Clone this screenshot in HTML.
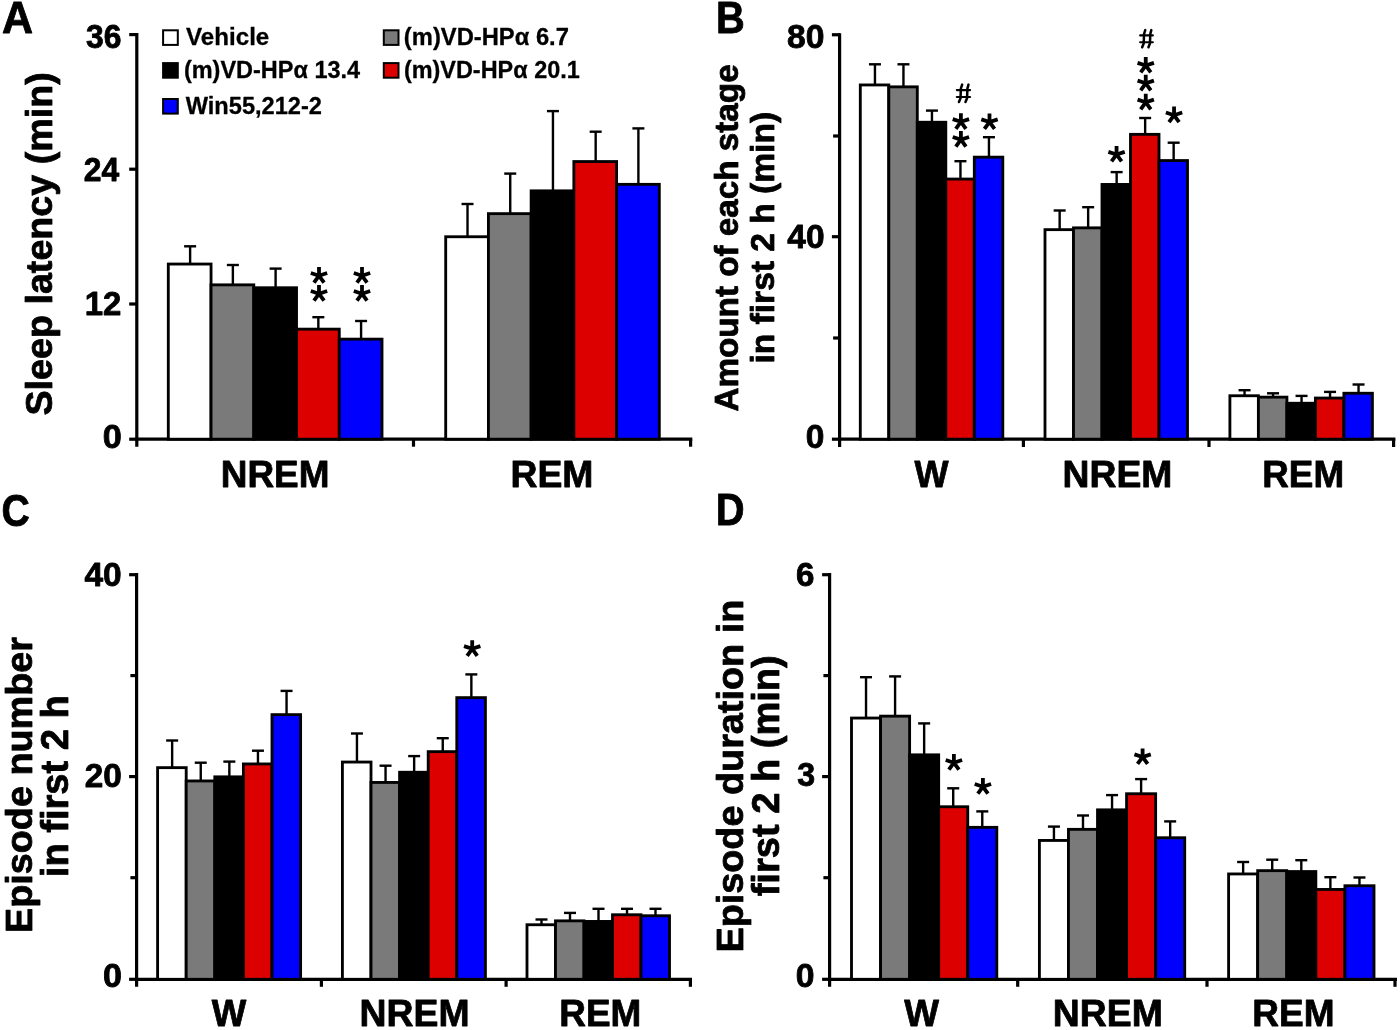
<!DOCTYPE html>
<html><head><meta charset="utf-8"><title>Figure</title>
<style>
html,body{margin:0;padding:0;background:#fff;}
body{width:1400px;height:1030px;overflow:hidden;}
svg{display:block;will-change:transform;}
text{font-family:"Liberation Sans", sans-serif;font-weight:bold;fill:#000;stroke:#000;stroke-width:0.8px;stroke-linejoin:round;}
text.lg{stroke-width:0.3px;}
</style></head><body>
<svg width="1400" height="1030" viewBox="0 0 1400 1030">
<rect x="0" y="0" width="1400" height="1030" fill="#fff"/>
<text transform="translate(2.02,33.05) scale(0.9791,1)" font-size="43.93">A</text>
<text transform="translate(715.88,33.05) scale(0.9059,1)" font-size="43.93">B</text>
<text transform="translate(1.49,525.85) scale(0.8927,1)" font-size="43.93">C</text>
<text transform="translate(715.67,525.45) scale(0.9096,1)" font-size="43.93">D</text>
<line x1="136.80" y1="33.00" x2="136.80" y2="446.70" stroke="#000" stroke-width="3.2"/>
<line x1="135.20" y1="439.20" x2="692.30" y2="439.20" stroke="#000" stroke-width="3.2"/>
<line x1="129.20" y1="34.60" x2="136.80" y2="34.60" stroke="#000" stroke-width="3.2"/>
<line x1="129.20" y1="169.20" x2="136.80" y2="169.20" stroke="#000" stroke-width="3.2"/>
<line x1="129.20" y1="304.00" x2="136.80" y2="304.00" stroke="#000" stroke-width="3.2"/>
<line x1="129.20" y1="439.20" x2="136.80" y2="439.20" stroke="#000" stroke-width="3.2"/>
<line x1="413.50" y1="439.20" x2="413.50" y2="446.70" stroke="#000" stroke-width="3.2"/>
<line x1="690.60" y1="439.20" x2="690.60" y2="446.70" stroke="#000" stroke-width="3.2"/>
<text transform="translate(85.97,47.79) scale(0.9747,1)" font-size="32.68">36</text>
<text transform="translate(83.77,181.45) scale(0.9759,1)" font-size="32.68">24</text>
<text transform="translate(84.74,315.45) scale(1.0083,1)" font-size="32.68">12</text>
<text transform="translate(102.65,448.03) scale(1.0477,1)" font-size="32.68">0</text>
<text transform="translate(51.90,415.53) rotate(-90)" font-size="37.69">Sleep latency (min)</text>
<line x1="190.12" y1="246.30" x2="190.12" y2="264.05" stroke="#000" stroke-width="2.4"/>
<line x1="184.12" y1="246.30" x2="196.12" y2="246.30" stroke="#000" stroke-width="2.4"/>
<line x1="232.86" y1="265.00" x2="232.86" y2="284.85" stroke="#000" stroke-width="2.4"/>
<line x1="226.86" y1="265.00" x2="238.86" y2="265.00" stroke="#000" stroke-width="2.4"/>
<line x1="275.60" y1="268.60" x2="275.60" y2="287.75" stroke="#000" stroke-width="2.4"/>
<line x1="269.60" y1="268.60" x2="281.60" y2="268.60" stroke="#000" stroke-width="2.4"/>
<line x1="318.34" y1="317.20" x2="318.34" y2="329.15" stroke="#000" stroke-width="2.4"/>
<line x1="312.34" y1="317.20" x2="324.34" y2="317.20" stroke="#000" stroke-width="2.4"/>
<line x1="361.08" y1="321.00" x2="361.08" y2="339.15" stroke="#000" stroke-width="2.4"/>
<line x1="355.08" y1="321.00" x2="367.08" y2="321.00" stroke="#000" stroke-width="2.4"/>
<rect x="168.30" y="264.05" width="42.74" height="175.15" fill="#ffffff" stroke="#000" stroke-width="2.85"/>
<rect x="211.04" y="284.85" width="42.74" height="154.35" fill="#7a7a7a" stroke="#000" stroke-width="2.85"/>
<rect x="253.78" y="287.75" width="42.74" height="151.45" fill="#000000" stroke="#000" stroke-width="2.85"/>
<rect x="296.52" y="329.15" width="42.74" height="110.05" fill="#dc0000" stroke="#000" stroke-width="2.85"/>
<rect x="339.26" y="339.15" width="42.74" height="100.05" fill="#0000ff" stroke="#000" stroke-width="2.85"/>
<line x1="467.51" y1="204.00" x2="467.51" y2="236.75" stroke="#000" stroke-width="2.4"/>
<line x1="461.51" y1="204.00" x2="473.51" y2="204.00" stroke="#000" stroke-width="2.4"/>
<line x1="510.23" y1="173.60" x2="510.23" y2="213.65" stroke="#000" stroke-width="2.4"/>
<line x1="504.23" y1="173.60" x2="516.23" y2="173.60" stroke="#000" stroke-width="2.4"/>
<line x1="552.95" y1="111.10" x2="552.95" y2="190.85" stroke="#000" stroke-width="2.4"/>
<line x1="546.95" y1="111.10" x2="558.95" y2="111.10" stroke="#000" stroke-width="2.4"/>
<line x1="595.67" y1="131.70" x2="595.67" y2="161.55" stroke="#000" stroke-width="2.4"/>
<line x1="589.67" y1="131.70" x2="601.67" y2="131.70" stroke="#000" stroke-width="2.4"/>
<line x1="638.39" y1="128.40" x2="638.39" y2="184.35" stroke="#000" stroke-width="2.4"/>
<line x1="632.39" y1="128.40" x2="644.39" y2="128.40" stroke="#000" stroke-width="2.4"/>
<rect x="445.70" y="236.75" width="42.72" height="202.45" fill="#ffffff" stroke="#000" stroke-width="2.85"/>
<rect x="488.42" y="213.65" width="42.72" height="225.55" fill="#7a7a7a" stroke="#000" stroke-width="2.85"/>
<rect x="531.14" y="190.85" width="42.72" height="248.35" fill="#000000" stroke="#000" stroke-width="2.85"/>
<rect x="573.86" y="161.55" width="42.72" height="277.65" fill="#dc0000" stroke="#000" stroke-width="2.85"/>
<rect x="616.58" y="184.35" width="42.72" height="254.85" fill="#0000ff" stroke="#000" stroke-width="2.85"/>
<text transform="translate(220.81,486.65) scale(0.9915,1)" font-size="37.22">NREM</text>
<text transform="translate(510.48,486.65) scale(1.0038,1)" font-size="37.22">REM</text>
<path d="M319.00 276.50L319.00 267.10M319.76 275.95L310.82 273.04M318.24 275.95L327.18 273.04M319.47 275.05L313.95 282.66M318.53 275.05L324.05 282.66" stroke="#000" stroke-width="3.8" fill="none"/>
<path d="M319.00 294.50L319.00 285.10M319.76 293.95L310.82 291.04M318.24 293.95L327.18 291.04M319.47 293.05L313.95 300.66M318.53 293.05L324.05 300.66" stroke="#000" stroke-width="3.8" fill="none"/>
<path d="M362.00 276.50L362.00 267.10M362.76 275.95L353.82 273.04M361.24 275.95L370.18 273.04M362.47 275.05L356.95 282.66M361.53 275.05L367.05 282.66" stroke="#000" stroke-width="3.8" fill="none"/>
<path d="M362.00 294.50L362.00 285.10M362.76 293.95L353.82 291.04M361.24 293.95L370.18 291.04M362.47 293.05L356.95 300.66M361.53 293.05L367.05 300.66" stroke="#000" stroke-width="3.8" fill="none"/>
<rect x="163.10" y="30.30" width="14.7" height="14.6" fill="#fff" stroke="#000" stroke-width="2"/>
<text transform="translate(186.07,44.75) scale(1.0264,1)" font-size="23.52" class="lg">Vehicle</text>
<rect x="163.10" y="63.10" width="14.7" height="14.6" fill="#000" stroke="#000" stroke-width="2"/>
<text transform="translate(183.88,77.85) scale(0.9989,1)" font-size="23.52" class="lg">(m)VD-HPα 13.4</text>
<rect x="163.10" y="99.00" width="14.7" height="14.6" fill="#0000ff" stroke="#000" stroke-width="2"/>
<text transform="translate(185.69,113.85) scale(1.0045,1)" font-size="23.52" class="lg">Win55,212-2</text>
<rect x="383.80" y="30.30" width="14.7" height="14.6" fill="#7a7a7a" stroke="#000" stroke-width="2"/>
<text transform="translate(403.86,44.75) scale(1.0105,1)" font-size="23.52" class="lg">(m)VD-HPα 6.7</text>
<rect x="383.80" y="63.10" width="14.7" height="14.6" fill="#dc0000" stroke="#000" stroke-width="2"/>
<text transform="translate(403.88,77.85) scale(0.9967,1)" font-size="23.52" class="lg">(m)VD-HPα 20.1</text>
<line x1="839.60" y1="33.15" x2="839.60" y2="447.00" stroke="#000" stroke-width="3.2"/>
<line x1="838.00" y1="439.20" x2="1395.40" y2="439.20" stroke="#000" stroke-width="3.2"/>
<line x1="831.90" y1="34.75" x2="839.60" y2="34.75" stroke="#000" stroke-width="3.2"/>
<line x1="831.90" y1="236.70" x2="839.60" y2="236.70" stroke="#000" stroke-width="3.2"/>
<line x1="831.90" y1="439.20" x2="839.60" y2="439.20" stroke="#000" stroke-width="3.2"/>
<line x1="833.10" y1="136.00" x2="839.60" y2="136.00" stroke="#000" stroke-width="3.2"/>
<line x1="833.10" y1="338.00" x2="839.60" y2="338.00" stroke="#000" stroke-width="3.2"/>
<line x1="1023.40" y1="439.20" x2="1023.40" y2="447.00" stroke="#000" stroke-width="3.2"/>
<line x1="1209.00" y1="439.20" x2="1209.00" y2="447.00" stroke="#000" stroke-width="3.2"/>
<line x1="1393.60" y1="439.20" x2="1393.60" y2="447.00" stroke="#000" stroke-width="3.2"/>
<text transform="translate(787.12,47.53) scale(1.0288,1)" font-size="32.68">80</text>
<text transform="translate(787.31,247.53) scale(1.0234,1)" font-size="32.68">40</text>
<text transform="translate(805.87,448.03) scale(1.0232,1)" font-size="32.68">0</text>
<text transform="translate(737.60,411.53) rotate(-90)" font-size="33.24">Amount of each stage</text>
<text transform="translate(773.90,363.55) rotate(-90)" font-size="33.56">in first 2 h (min)</text>
<line x1="874.95" y1="64.30" x2="874.95" y2="84.95" stroke="#000" stroke-width="2.4"/>
<line x1="868.95" y1="64.30" x2="880.95" y2="64.30" stroke="#000" stroke-width="2.4"/>
<line x1="903.45" y1="64.30" x2="903.45" y2="86.85" stroke="#000" stroke-width="2.4"/>
<line x1="897.45" y1="64.30" x2="909.45" y2="64.30" stroke="#000" stroke-width="2.4"/>
<line x1="931.95" y1="110.60" x2="931.95" y2="122.25" stroke="#000" stroke-width="2.4"/>
<line x1="925.95" y1="110.60" x2="937.95" y2="110.60" stroke="#000" stroke-width="2.4"/>
<line x1="960.45" y1="161.20" x2="960.45" y2="179.05" stroke="#000" stroke-width="2.4"/>
<line x1="954.45" y1="161.20" x2="966.45" y2="161.20" stroke="#000" stroke-width="2.4"/>
<line x1="988.95" y1="137.20" x2="988.95" y2="157.15" stroke="#000" stroke-width="2.4"/>
<line x1="982.95" y1="137.20" x2="994.95" y2="137.20" stroke="#000" stroke-width="2.4"/>
<rect x="860.30" y="84.95" width="28.50" height="354.25" fill="#ffffff" stroke="#000" stroke-width="2.85"/>
<rect x="888.80" y="86.85" width="28.50" height="352.35" fill="#7a7a7a" stroke="#000" stroke-width="2.85"/>
<rect x="917.30" y="122.25" width="28.50" height="316.95" fill="#000000" stroke="#000" stroke-width="2.85"/>
<rect x="945.80" y="179.05" width="28.50" height="260.15" fill="#dc0000" stroke="#000" stroke-width="2.85"/>
<rect x="974.30" y="157.15" width="28.50" height="282.05" fill="#0000ff" stroke="#000" stroke-width="2.85"/>
<line x1="1059.65" y1="210.50" x2="1059.65" y2="229.65" stroke="#000" stroke-width="2.4"/>
<line x1="1053.65" y1="210.50" x2="1065.65" y2="210.50" stroke="#000" stroke-width="2.4"/>
<line x1="1088.15" y1="207.20" x2="1088.15" y2="227.85" stroke="#000" stroke-width="2.4"/>
<line x1="1082.15" y1="207.20" x2="1094.15" y2="207.20" stroke="#000" stroke-width="2.4"/>
<line x1="1116.65" y1="172.10" x2="1116.65" y2="184.45" stroke="#000" stroke-width="2.4"/>
<line x1="1110.65" y1="172.10" x2="1122.65" y2="172.10" stroke="#000" stroke-width="2.4"/>
<line x1="1145.15" y1="118.00" x2="1145.15" y2="134.35" stroke="#000" stroke-width="2.4"/>
<line x1="1139.15" y1="118.00" x2="1151.15" y2="118.00" stroke="#000" stroke-width="2.4"/>
<line x1="1173.65" y1="142.70" x2="1173.65" y2="160.55" stroke="#000" stroke-width="2.4"/>
<line x1="1167.65" y1="142.70" x2="1179.65" y2="142.70" stroke="#000" stroke-width="2.4"/>
<rect x="1045.00" y="229.65" width="28.50" height="209.55" fill="#ffffff" stroke="#000" stroke-width="2.85"/>
<rect x="1073.50" y="227.85" width="28.50" height="211.35" fill="#7a7a7a" stroke="#000" stroke-width="2.85"/>
<rect x="1102.00" y="184.45" width="28.50" height="254.75" fill="#000000" stroke="#000" stroke-width="2.85"/>
<rect x="1130.50" y="134.35" width="28.50" height="304.85" fill="#dc0000" stroke="#000" stroke-width="2.85"/>
<rect x="1159.00" y="160.55" width="28.50" height="278.65" fill="#0000ff" stroke="#000" stroke-width="2.85"/>
<line x1="1244.55" y1="390.20" x2="1244.55" y2="395.75" stroke="#000" stroke-width="2.4"/>
<line x1="1238.55" y1="390.20" x2="1250.55" y2="390.20" stroke="#000" stroke-width="2.4"/>
<line x1="1273.05" y1="393.30" x2="1273.05" y2="397.15" stroke="#000" stroke-width="2.4"/>
<line x1="1267.05" y1="393.30" x2="1279.05" y2="393.30" stroke="#000" stroke-width="2.4"/>
<line x1="1301.55" y1="395.90" x2="1301.55" y2="403.25" stroke="#000" stroke-width="2.4"/>
<line x1="1295.55" y1="395.90" x2="1307.55" y2="395.90" stroke="#000" stroke-width="2.4"/>
<line x1="1330.05" y1="391.90" x2="1330.05" y2="398.05" stroke="#000" stroke-width="2.4"/>
<line x1="1324.05" y1="391.90" x2="1336.05" y2="391.90" stroke="#000" stroke-width="2.4"/>
<line x1="1358.55" y1="384.50" x2="1358.55" y2="393.25" stroke="#000" stroke-width="2.4"/>
<line x1="1352.55" y1="384.50" x2="1364.55" y2="384.50" stroke="#000" stroke-width="2.4"/>
<rect x="1229.90" y="395.75" width="28.50" height="43.45" fill="#ffffff" stroke="#000" stroke-width="2.85"/>
<rect x="1258.40" y="397.15" width="28.50" height="42.05" fill="#7a7a7a" stroke="#000" stroke-width="2.85"/>
<rect x="1286.90" y="403.25" width="28.50" height="35.95" fill="#000000" stroke="#000" stroke-width="2.85"/>
<rect x="1315.40" y="398.05" width="28.50" height="41.15" fill="#dc0000" stroke="#000" stroke-width="2.85"/>
<rect x="1343.90" y="393.25" width="28.50" height="45.95" fill="#0000ff" stroke="#000" stroke-width="2.85"/>
<text transform="translate(914.60,486.85) scale(0.9695,1)" font-size="37.22">W</text>
<text transform="translate(1062.58,486.85) scale(1.0019,1)" font-size="37.22">NREM</text>
<text transform="translate(1262.21,486.70) scale(0.9910,1)" font-size="37.22">REM</text>
<path d="M962.15 84.64L960.90 88.37L960.49 98.22L958.93 102.05M968.49 84.64L967.45 88.37L967.04 98.22L965.48 102.05" stroke="#000" stroke-width="2.5" stroke-linecap="round" stroke-linejoin="round" fill="none"/>
<path d="M956.85 90.03L970.05 90.03M956.85 96.98L970.05 96.98" stroke="#000" stroke-width="2.2" stroke-linecap="round" fill="none"/>
<path d="M960.90 122.60L960.90 113.20M961.66 122.05L952.72 119.14M960.14 122.05L969.08 119.14M961.37 121.15L955.85 128.76M960.43 121.15L965.95 128.76" stroke="#000" stroke-width="3.8" fill="none"/>
<path d="M960.90 140.40L960.90 131.00M961.66 139.85L952.72 136.94M960.14 139.85L969.08 136.94M961.37 138.95L955.85 146.56M960.43 138.95L965.95 146.56" stroke="#000" stroke-width="3.8" fill="none"/>
<path d="M989.50 122.80L989.50 113.40M990.26 122.25L981.32 119.34M988.74 122.25L997.68 119.34M989.97 121.35L984.45 128.96M989.03 121.35L994.55 128.96" stroke="#000" stroke-width="3.8" fill="none"/>
<path d="M1116.55 155.30L1116.55 145.90M1117.31 154.75L1108.37 151.84M1115.79 154.75L1124.73 151.84M1117.02 153.85L1111.50 161.46M1116.08 153.85L1121.60 161.46" stroke="#000" stroke-width="3.8" fill="none"/>
<path d="M1145.26 30.12L1144.07 33.80L1143.67 43.50L1142.18 47.27M1151.32 30.12L1150.32 33.80L1149.93 43.50L1148.44 47.27" stroke="#000" stroke-width="2.5" stroke-linecap="round" stroke-linejoin="round" fill="none"/>
<path d="M1140.19 35.43L1152.81 35.43M1140.19 42.27L1152.81 42.27" stroke="#000" stroke-width="2.2" stroke-linecap="round" fill="none"/>
<path d="M1145.75 66.30L1145.75 56.90M1146.51 65.75L1137.57 62.84M1144.99 65.75L1153.93 62.84M1146.22 64.85L1140.70 72.46M1145.28 64.85L1150.80 72.46" stroke="#000" stroke-width="3.8" fill="none"/>
<path d="M1145.75 84.10L1145.75 74.70M1146.51 83.55L1137.57 80.64M1144.99 83.55L1153.93 80.64M1146.22 82.65L1140.70 90.26M1145.28 82.65L1150.80 90.26" stroke="#000" stroke-width="3.8" fill="none"/>
<path d="M1145.75 103.10L1145.75 93.70M1146.51 102.55L1137.57 99.64M1144.99 102.55L1153.93 99.64M1146.22 101.65L1140.70 109.26M1145.28 101.65L1150.80 109.26" stroke="#000" stroke-width="3.8" fill="none"/>
<path d="M1174.05 116.00L1174.05 106.60M1174.81 115.45L1165.87 112.54M1173.29 115.45L1182.23 112.54M1174.52 114.55L1169.00 122.16M1173.58 114.55L1179.10 122.16" stroke="#000" stroke-width="3.8" fill="none"/>
<line x1="136.60" y1="573.10" x2="136.60" y2="986.80" stroke="#000" stroke-width="3.2"/>
<line x1="135.00" y1="979.30" x2="692.00" y2="979.30" stroke="#000" stroke-width="3.2"/>
<line x1="129.10" y1="574.70" x2="136.60" y2="574.70" stroke="#000" stroke-width="3.2"/>
<line x1="129.10" y1="776.60" x2="136.60" y2="776.60" stroke="#000" stroke-width="3.2"/>
<line x1="129.10" y1="979.30" x2="136.60" y2="979.30" stroke="#000" stroke-width="3.2"/>
<line x1="130.40" y1="675.60" x2="136.60" y2="675.60" stroke="#000" stroke-width="3.2"/>
<line x1="130.40" y1="877.70" x2="136.60" y2="877.70" stroke="#000" stroke-width="3.2"/>
<line x1="321.40" y1="979.30" x2="321.40" y2="986.80" stroke="#000" stroke-width="3.2"/>
<line x1="506.10" y1="979.30" x2="506.10" y2="986.80" stroke="#000" stroke-width="3.2"/>
<line x1="690.40" y1="979.30" x2="690.40" y2="986.80" stroke="#000" stroke-width="3.2"/>
<text transform="translate(84.51,586.38) scale(1.0234,1)" font-size="32.68">40</text>
<text transform="translate(84.64,786.78) scale(1.0197,1)" font-size="32.68">20</text>
<text transform="translate(102.96,986.78) scale(1.0416,1)" font-size="32.68">0</text>
<text transform="translate(32.20,933.05) rotate(-90)" font-size="37.79">Episode number</text>
<text transform="translate(67.90,877.17) rotate(-90)" font-size="38.08">in first 2 h</text>
<line x1="172.15" y1="740.50" x2="172.15" y2="767.65" stroke="#000" stroke-width="2.4"/>
<line x1="166.15" y1="740.50" x2="178.15" y2="740.50" stroke="#000" stroke-width="2.4"/>
<line x1="200.75" y1="762.70" x2="200.75" y2="780.95" stroke="#000" stroke-width="2.4"/>
<line x1="194.75" y1="762.70" x2="206.75" y2="762.70" stroke="#000" stroke-width="2.4"/>
<line x1="229.35" y1="761.60" x2="229.35" y2="776.85" stroke="#000" stroke-width="2.4"/>
<line x1="223.35" y1="761.60" x2="235.35" y2="761.60" stroke="#000" stroke-width="2.4"/>
<line x1="257.95" y1="750.70" x2="257.95" y2="763.95" stroke="#000" stroke-width="2.4"/>
<line x1="251.95" y1="750.70" x2="263.95" y2="750.70" stroke="#000" stroke-width="2.4"/>
<line x1="286.55" y1="690.90" x2="286.55" y2="714.65" stroke="#000" stroke-width="2.4"/>
<line x1="280.55" y1="690.90" x2="292.55" y2="690.90" stroke="#000" stroke-width="2.4"/>
<rect x="157.60" y="767.65" width="28.60" height="211.65" fill="#ffffff" stroke="#000" stroke-width="2.85"/>
<rect x="186.20" y="780.95" width="28.60" height="198.35" fill="#7a7a7a" stroke="#000" stroke-width="2.85"/>
<rect x="214.80" y="776.85" width="28.60" height="202.45" fill="#000000" stroke="#000" stroke-width="2.85"/>
<rect x="243.40" y="763.95" width="28.60" height="215.35" fill="#dc0000" stroke="#000" stroke-width="2.85"/>
<rect x="272.00" y="714.65" width="28.60" height="264.65" fill="#0000ff" stroke="#000" stroke-width="2.85"/>
<line x1="356.95" y1="733.50" x2="356.95" y2="762.05" stroke="#000" stroke-width="2.4"/>
<line x1="350.95" y1="733.50" x2="362.95" y2="733.50" stroke="#000" stroke-width="2.4"/>
<line x1="385.55" y1="765.70" x2="385.55" y2="782.45" stroke="#000" stroke-width="2.4"/>
<line x1="379.55" y1="765.70" x2="391.55" y2="765.70" stroke="#000" stroke-width="2.4"/>
<line x1="414.15" y1="756.10" x2="414.15" y2="772.25" stroke="#000" stroke-width="2.4"/>
<line x1="408.15" y1="756.10" x2="420.15" y2="756.10" stroke="#000" stroke-width="2.4"/>
<line x1="442.75" y1="738.20" x2="442.75" y2="751.65" stroke="#000" stroke-width="2.4"/>
<line x1="436.75" y1="738.20" x2="448.75" y2="738.20" stroke="#000" stroke-width="2.4"/>
<line x1="471.35" y1="674.40" x2="471.35" y2="697.65" stroke="#000" stroke-width="2.4"/>
<line x1="465.35" y1="674.40" x2="477.35" y2="674.40" stroke="#000" stroke-width="2.4"/>
<rect x="342.40" y="762.05" width="28.60" height="217.25" fill="#ffffff" stroke="#000" stroke-width="2.85"/>
<rect x="371.00" y="782.45" width="28.60" height="196.85" fill="#7a7a7a" stroke="#000" stroke-width="2.85"/>
<rect x="399.60" y="772.25" width="28.60" height="207.05" fill="#000000" stroke="#000" stroke-width="2.85"/>
<rect x="428.20" y="751.65" width="28.60" height="227.65" fill="#dc0000" stroke="#000" stroke-width="2.85"/>
<rect x="456.80" y="697.65" width="28.60" height="281.65" fill="#0000ff" stroke="#000" stroke-width="2.85"/>
<line x1="541.50" y1="919.50" x2="541.50" y2="924.75" stroke="#000" stroke-width="2.4"/>
<line x1="535.50" y1="919.50" x2="547.50" y2="919.50" stroke="#000" stroke-width="2.4"/>
<line x1="570.00" y1="912.90" x2="570.00" y2="920.85" stroke="#000" stroke-width="2.4"/>
<line x1="564.00" y1="912.90" x2="576.00" y2="912.90" stroke="#000" stroke-width="2.4"/>
<line x1="598.50" y1="908.80" x2="598.50" y2="921.45" stroke="#000" stroke-width="2.4"/>
<line x1="592.50" y1="908.80" x2="604.50" y2="908.80" stroke="#000" stroke-width="2.4"/>
<line x1="627.00" y1="908.80" x2="627.00" y2="914.75" stroke="#000" stroke-width="2.4"/>
<line x1="621.00" y1="908.80" x2="633.00" y2="908.80" stroke="#000" stroke-width="2.4"/>
<line x1="655.50" y1="908.80" x2="655.50" y2="915.75" stroke="#000" stroke-width="2.4"/>
<line x1="649.50" y1="908.80" x2="661.50" y2="908.80" stroke="#000" stroke-width="2.4"/>
<rect x="527.00" y="924.75" width="28.50" height="54.55" fill="#ffffff" stroke="#000" stroke-width="2.85"/>
<rect x="555.50" y="920.85" width="28.50" height="58.45" fill="#7a7a7a" stroke="#000" stroke-width="2.85"/>
<rect x="584.00" y="921.45" width="28.50" height="57.85" fill="#000000" stroke="#000" stroke-width="2.85"/>
<rect x="612.50" y="914.75" width="28.50" height="64.55" fill="#dc0000" stroke="#000" stroke-width="2.85"/>
<rect x="641.00" y="915.75" width="28.50" height="63.55" fill="#0000ff" stroke="#000" stroke-width="2.85"/>
<text transform="translate(211.80,1025.95) scale(0.9835,1)" font-size="37.22">W</text>
<text transform="translate(359.58,1025.95) scale(1.0038,1)" font-size="37.22">NREM</text>
<text transform="translate(559.30,1026.00) scale(0.9923,1)" font-size="37.22">REM</text>
<path d="M472.20 649.60L472.20 640.20M472.96 649.05L464.02 646.14M471.44 649.05L480.38 646.14M472.67 648.15L467.15 655.76M471.73 648.15L477.25 655.76" stroke="#000" stroke-width="3.8" fill="none"/>
<line x1="829.60" y1="573.10" x2="829.60" y2="986.80" stroke="#000" stroke-width="3.2"/>
<line x1="828.00" y1="979.30" x2="1397.00" y2="979.30" stroke="#000" stroke-width="3.2"/>
<line x1="822.10" y1="574.70" x2="829.60" y2="574.70" stroke="#000" stroke-width="3.2"/>
<line x1="822.10" y1="776.60" x2="829.60" y2="776.60" stroke="#000" stroke-width="3.2"/>
<line x1="822.10" y1="979.30" x2="829.60" y2="979.30" stroke="#000" stroke-width="3.2"/>
<line x1="823.40" y1="675.60" x2="829.60" y2="675.60" stroke="#000" stroke-width="3.2"/>
<line x1="823.40" y1="877.70" x2="829.60" y2="877.70" stroke="#000" stroke-width="3.2"/>
<line x1="1017.70" y1="979.30" x2="1017.70" y2="986.80" stroke="#000" stroke-width="3.2"/>
<line x1="1207.00" y1="979.30" x2="1207.00" y2="986.80" stroke="#000" stroke-width="3.2"/>
<line x1="1395.00" y1="979.30" x2="1395.00" y2="986.80" stroke="#000" stroke-width="3.2"/>
<text transform="translate(795.96,586.38) scale(1.0141,1)" font-size="32.68">6</text>
<text transform="translate(797.17,786.34) scale(0.9850,1)" font-size="32.68">3</text>
<text transform="translate(795.87,986.78) scale(1.0293,1)" font-size="32.68">0</text>
<text transform="translate(743.10,952.55) rotate(-90)" font-size="37.81">Episode duration in</text>
<text transform="translate(778.60,896.37) rotate(-90)" font-size="38.08">first 2 h (min)</text>
<line x1="866.03" y1="677.20" x2="866.03" y2="718.05" stroke="#000" stroke-width="2.4"/>
<line x1="860.03" y1="677.20" x2="872.03" y2="677.20" stroke="#000" stroke-width="2.4"/>
<line x1="895.09" y1="676.40" x2="895.09" y2="716.15" stroke="#000" stroke-width="2.4"/>
<line x1="889.09" y1="676.40" x2="901.09" y2="676.40" stroke="#000" stroke-width="2.4"/>
<line x1="924.15" y1="723.40" x2="924.15" y2="754.85" stroke="#000" stroke-width="2.4"/>
<line x1="918.15" y1="723.40" x2="930.15" y2="723.40" stroke="#000" stroke-width="2.4"/>
<line x1="953.21" y1="788.30" x2="953.21" y2="806.75" stroke="#000" stroke-width="2.4"/>
<line x1="947.21" y1="788.30" x2="959.21" y2="788.30" stroke="#000" stroke-width="2.4"/>
<line x1="982.27" y1="811.40" x2="982.27" y2="827.35" stroke="#000" stroke-width="2.4"/>
<line x1="976.27" y1="811.40" x2="988.27" y2="811.40" stroke="#000" stroke-width="2.4"/>
<rect x="851.50" y="718.05" width="29.06" height="261.25" fill="#ffffff" stroke="#000" stroke-width="2.85"/>
<rect x="880.56" y="716.15" width="29.06" height="263.15" fill="#7a7a7a" stroke="#000" stroke-width="2.85"/>
<rect x="909.62" y="754.85" width="29.06" height="224.45" fill="#000000" stroke="#000" stroke-width="2.85"/>
<rect x="938.68" y="806.75" width="29.06" height="172.55" fill="#dc0000" stroke="#000" stroke-width="2.85"/>
<rect x="967.74" y="827.35" width="29.06" height="151.95" fill="#0000ff" stroke="#000" stroke-width="2.85"/>
<line x1="1053.93" y1="826.60" x2="1053.93" y2="840.45" stroke="#000" stroke-width="2.4"/>
<line x1="1047.93" y1="826.60" x2="1059.93" y2="826.60" stroke="#000" stroke-width="2.4"/>
<line x1="1082.99" y1="815.50" x2="1082.99" y2="829.35" stroke="#000" stroke-width="2.4"/>
<line x1="1076.99" y1="815.50" x2="1088.99" y2="815.50" stroke="#000" stroke-width="2.4"/>
<line x1="1112.05" y1="795.10" x2="1112.05" y2="809.85" stroke="#000" stroke-width="2.4"/>
<line x1="1106.05" y1="795.10" x2="1118.05" y2="795.10" stroke="#000" stroke-width="2.4"/>
<line x1="1141.11" y1="779.10" x2="1141.11" y2="793.75" stroke="#000" stroke-width="2.4"/>
<line x1="1135.11" y1="779.10" x2="1147.11" y2="779.10" stroke="#000" stroke-width="2.4"/>
<line x1="1170.17" y1="821.40" x2="1170.17" y2="837.75" stroke="#000" stroke-width="2.4"/>
<line x1="1164.17" y1="821.40" x2="1176.17" y2="821.40" stroke="#000" stroke-width="2.4"/>
<rect x="1039.40" y="840.45" width="29.06" height="138.85" fill="#ffffff" stroke="#000" stroke-width="2.85"/>
<rect x="1068.46" y="829.35" width="29.06" height="149.95" fill="#7a7a7a" stroke="#000" stroke-width="2.85"/>
<rect x="1097.52" y="809.85" width="29.06" height="169.45" fill="#000000" stroke="#000" stroke-width="2.85"/>
<rect x="1126.58" y="793.75" width="29.06" height="185.55" fill="#dc0000" stroke="#000" stroke-width="2.85"/>
<rect x="1155.64" y="837.75" width="29.06" height="141.55" fill="#0000ff" stroke="#000" stroke-width="2.85"/>
<line x1="1243.14" y1="862.00" x2="1243.14" y2="873.95" stroke="#000" stroke-width="2.4"/>
<line x1="1237.14" y1="862.00" x2="1249.14" y2="862.00" stroke="#000" stroke-width="2.4"/>
<line x1="1272.22" y1="859.70" x2="1272.22" y2="870.65" stroke="#000" stroke-width="2.4"/>
<line x1="1266.22" y1="859.70" x2="1278.22" y2="859.70" stroke="#000" stroke-width="2.4"/>
<line x1="1301.30" y1="860.20" x2="1301.30" y2="871.55" stroke="#000" stroke-width="2.4"/>
<line x1="1295.30" y1="860.20" x2="1307.30" y2="860.20" stroke="#000" stroke-width="2.4"/>
<line x1="1330.38" y1="877.20" x2="1330.38" y2="889.45" stroke="#000" stroke-width="2.4"/>
<line x1="1324.38" y1="877.20" x2="1336.38" y2="877.20" stroke="#000" stroke-width="2.4"/>
<line x1="1359.46" y1="877.50" x2="1359.46" y2="885.75" stroke="#000" stroke-width="2.4"/>
<line x1="1353.46" y1="877.50" x2="1365.46" y2="877.50" stroke="#000" stroke-width="2.4"/>
<rect x="1228.60" y="873.95" width="29.08" height="105.35" fill="#ffffff" stroke="#000" stroke-width="2.85"/>
<rect x="1257.68" y="870.65" width="29.08" height="108.65" fill="#7a7a7a" stroke="#000" stroke-width="2.85"/>
<rect x="1286.76" y="871.55" width="29.08" height="107.75" fill="#000000" stroke="#000" stroke-width="2.85"/>
<rect x="1315.84" y="889.45" width="29.08" height="89.85" fill="#dc0000" stroke="#000" stroke-width="2.85"/>
<rect x="1344.92" y="885.75" width="29.08" height="93.55" fill="#0000ff" stroke="#000" stroke-width="2.85"/>
<text transform="translate(904.30,1025.95) scale(0.9891,1)" font-size="37.22">W</text>
<text transform="translate(1052.78,1025.95) scale(1.0038,1)" font-size="37.22">NREM</text>
<text transform="translate(1252.30,1025.75) scale(0.9948,1)" font-size="37.22">REM</text>
<path d="M953.90 763.50L953.90 754.10M954.66 762.95L945.72 760.04M953.14 762.95L962.08 760.04M954.37 762.05L948.85 769.66M953.43 762.05L958.95 769.66" stroke="#000" stroke-width="3.8" fill="none"/>
<path d="M982.90 787.50L982.90 778.10M983.66 786.95L974.72 784.04M982.14 786.95L991.08 784.04M983.37 786.05L977.85 793.66M982.43 786.05L987.95 793.66" stroke="#000" stroke-width="3.8" fill="none"/>
<path d="M1142.60 757.80L1142.60 748.40M1143.36 757.25L1134.42 754.34M1141.84 757.25L1150.78 754.34M1143.07 756.35L1137.55 763.96M1142.13 756.35L1147.65 763.96" stroke="#000" stroke-width="3.8" fill="none"/>
</svg>
</body></html>
